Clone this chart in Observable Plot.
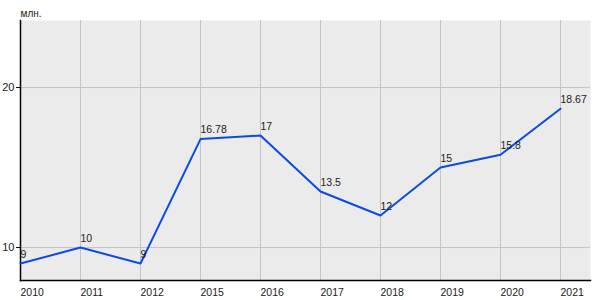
<!DOCTYPE html>
<html><head><meta charset="utf-8">
<script src="https://cdn.jsdelivr.net/npm/d3@7"></script>
<script src="https://cdn.jsdelivr.net/npm/@observablehq/plot@0.6"></script>
<style>body{margin:0;background:#fff;font-family:"Liberation Sans",Arial,sans-serif;}</style>
</head><body><div id="chart"></div>
<script>
const years = ["2010","2011","2012","2015","2016","2017","2018","2019","2020","2021"];
const values = [9, 10, 9, 16.78, 17, 13.5, 12, 15, 15.8, 18.67];
const labels = ["9","10","9","16.78","17","13.5","12","15","15.8","18.67"];
const yTicks = [10, 20];
const unit = "млн.";
const data = years.map((y, i) => ({year: y, value: values[i], label: labels[i]}));

const chart = Plot.plot({
  width: 600, height: 300,
  marginLeft: 20, marginRight: 10, marginTop: 20, marginBottom: 20,
  style: {fontFamily: "'Liberation Sans', Arial, sans-serif", fontSize: "10px", color: "#222", background: "#fff"},
  x: {type: "point", domain: years, range: [20, 560], padding: 0},
  y: {domain: [7.94, 24.19], range: [280, 20]},
  marks: [
    Plot.frame({fill: "#ebebeb", stroke: null}),
    Plot.gridX(years, {stroke: "#c4c4c4", strokeOpacity: 1}),
    Plot.gridY(yTicks, {stroke: "#c4c4c4", strokeOpacity: 1}),
    Plot.axisY(yTicks, {tickSize: 4, tickPadding: 2, label: null, stroke: "#000", fill: "#222", fontSize: 11}),
    Plot.axisX(years, {tickSize: 0, tickPadding: 8, textAnchor: "start", label: null, fill: "#222", fontSize: 10.5}),
    Plot.frame({anchor: "left", stroke: "#000", strokeWidth: 1.5}),
    Plot.frame({anchor: "bottom", stroke: "#000", strokeWidth: 1.5}),
    Plot.line(data, {x: "year", y: "value", stroke: "#0a4be6", strokeWidth: 2}),
    Plot.text(data, {x: "year", y: "value", text: "label", textAnchor: "start", dy: -9, fill: "#222", fontSize: 10.5}),
    Plot.text([unit], {frameAnchor: "top-left", text: d => d, textAnchor: "start", dy: -11, fill: "#222", fontSize: 10})
  ]
});
document.getElementById("chart").appendChild(chart);
</script></body></html>
